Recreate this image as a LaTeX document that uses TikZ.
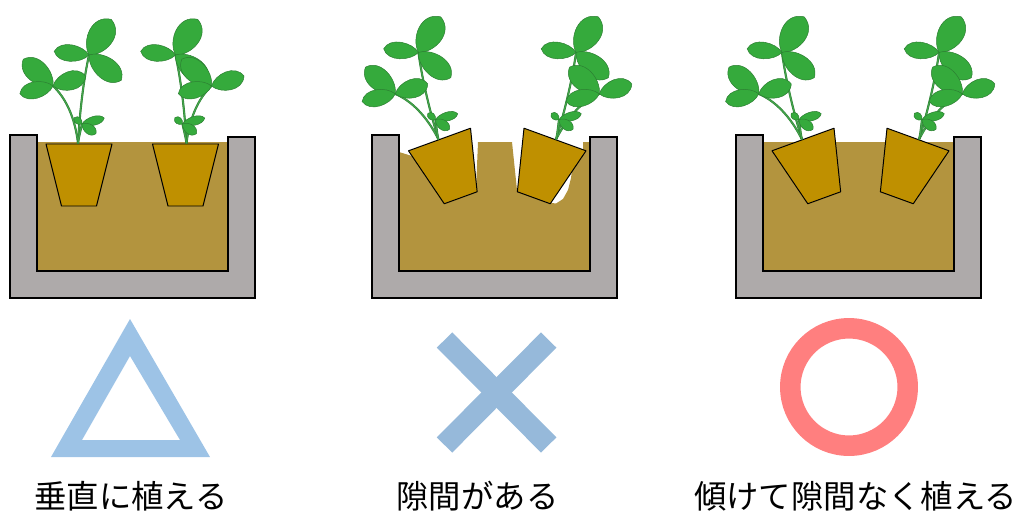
\documentclass[tikz,border=0pt]{standalone}
\usepackage{fontspec}
\newfontfamily\jpfont{Noto Sans CJK JP}
\usepackage{tikz}

\definecolor{wallgray}{HTML}{AEAAAA}
\definecolor{soilbrown}{HTML}{B3943E}
\definecolor{potgold}{HTML}{BF9000}
\definecolor{leafgreen}{HTML}{35AA3C}
\definecolor{leafedge}{HTML}{2C7E32}
\definecolor{stemgreen}{HTML}{43A24B}
\definecolor{triblue}{HTML}{9DC3E6}
\definecolor{crossblue}{HTML}{96B9DA}
\definecolor{ringpink}{HTML}{FF7F7F}

\begin{document}
\begin{tikzpicture}[
  x=0.025cm, y=-0.025cm,
  wall/.style={fill=wallgray, draw=black, line width=1.4pt},
  soil/.style={fill=soilbrown},
  pot/.style={fill=potgold, draw=black, line width=0.7pt, line join=round},
  stem/.style={draw=leafedge, double=stemgreen, double distance=0.9pt,
               line width=0.3pt, line cap=round},
  leaf/.style={fill=leafgreen, draw=leafedge, line width=0.35pt},
  caption/.style={font=\jpfont\fontsize{23}{28}\selectfont, inner sep=0pt},
  pics/leaflet/.style 2 args={code={
    \path[leaf] (0,0) .. controls (0.2*#1,0.55*#2) and (0.85*#1,0.75*#2) .. (#1,0)
      .. controls (0.85*#1,-0.75*#2) and (0.2*#1,-0.55*#2) .. cycle;
  }},
  pics/planter/.style={code={
    \path[wall] (0,0) -- (27,0) -- (27,136) -- (218,136) -- (218,2) -- (245,2)
      -- (245,163) -- (0,163) -- cycle;
  }},
  pics/seedling/.style={code={
    \path[pot] (-33,0) -- (33,0) -- (17.5,62) -- (-17.5,62) -- cycle;
    % stems
    \draw[stem] (-1,-1) .. controls (1,-36) and (5,-66) .. (10,-89);
    \draw[stem] (-1,-1) .. controls (-4,-26) and (-13,-46) .. (-26,-58);
    \draw[stem] (-1,-1) .. controls (0,-8) and (2,-15) .. (3,-20);
    % top trefoil
    \pic[rotate=58]  at (10,-89) {leaflet={42}{26}};
    \pic[rotate=174] at (10,-89) {leaflet={35}{17}};
    \pic[rotate=-38] at (10,-89) {leaflet={41}{22}};
    % side trefoil
    \pic[rotate=138] at (-26,-58) {leaflet={40}{22}};
    \pic[rotate=193] at (-26,-58) {leaflet={34}{17}};
    \pic[rotate=17]  at (-26,-58) {leaflet={34}{19}};
    % young leaf
    \pic[rotate=140] at (3,-20) {leaflet={10}{7}};
    \pic[rotate=15]  at (3,-20) {leaflet={23}{9}};
    \pic[rotate=-35] at (3,-20) {leaflet={17}{10}};
  }}
]
  \useasboundingbox (0,0) rectangle (1016,514);

  % soil
  \path[soil] (37,142) rectangle (228,271);
  \path[soil] (399,152) -- (412,156) -- (460,195) -- (476,190) -- (478,142)
    -- (512,142) -- (517,190) -- (535,196) -- (552,203) -- (556,203.5)
    -- (563,199) -- (568,190) -- (571,178) -- (572,170) -- (578,160)
    -- (583,150) -- (583,142) -- (591,142) -- (591,271) -- (399,271) -- cycle;
  \path[soil] (763,142) rectangle (954,271);

  % planters
  \foreach \bx in {10,372,736}
    \pic at (\bx,135) {planter};

  % upright
  \pic at (79,144) {seedling};
  \pic[xscale=-1] at (185.5,144) {seedling};

  % tilted, with gaps
  \pic[rotate=20] at (439.5,139.5) {seedling};
  \pic[xscale=-1, rotate=20] at (555,139.5) {seedling};

  % tilted, packed
  \pic[rotate=20] at (803,139.5) {seedling};
  \pic[xscale=-1, rotate=20] at (918,139.5) {seedling};

  % marks
  \fill[triblue, even odd rule] (130,319) -- (210,457) -- (51,457) -- cycle
    (130,356) -- (180,440) -- (82,440) -- cycle;
  \draw[crossblue, line width=15.4pt] (444.5,340) -- (548.7,445);
  \draw[crossblue, line width=15.4pt] (444.5,445) -- (548.7,340);
  \draw[ringpink, line width=14.6pt] (849,387) circle[radius=58.7];

  % captions
  \node[caption] (upright) at (131,496.5) {垂直に植える};
  \node[caption] (gapped)  at (477.5,496.5) {隙間がある};
  \node[caption] (packed)  at (855.5,496.5) {傾けて隙間なく植える};
\end{tikzpicture}
\end{document}
